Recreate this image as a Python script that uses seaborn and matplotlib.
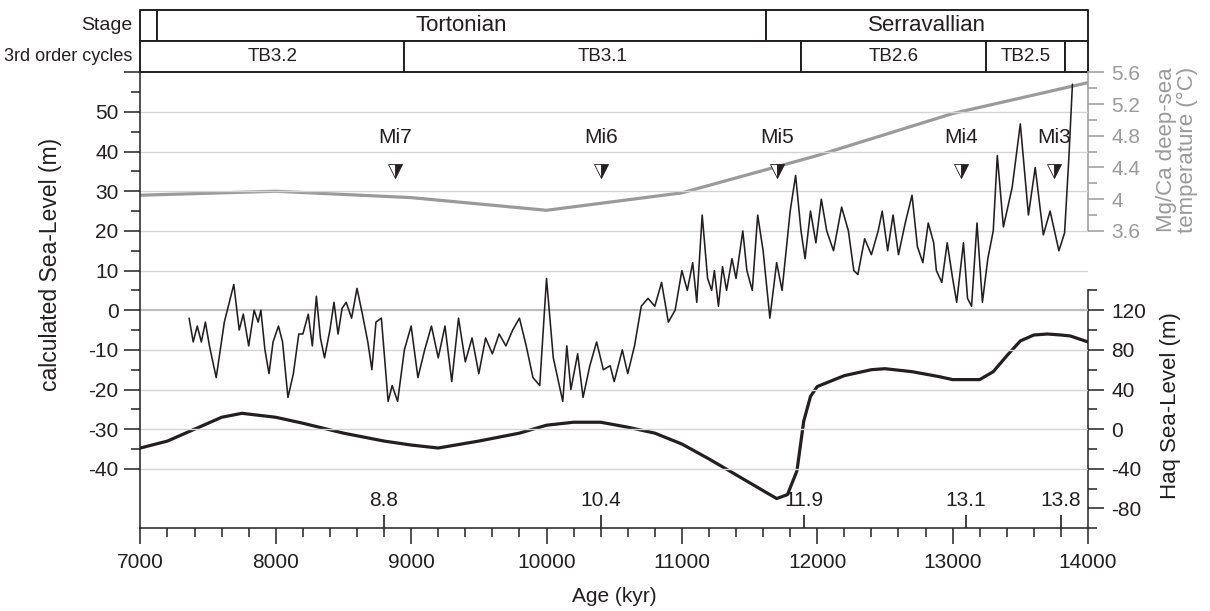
import numpy as np
import pandas as pd
import matplotlib
matplotlib.use("Agg")
import matplotlib.pyplot as plt
from matplotlib.ticker import MultipleLocator, FixedLocator, FuncFormatter
import seaborn as sns

sns.set_theme(style="ticks")
plt.rcParams["font.family"] = ["Liberation Sans", "DejaVu Sans"]
plt.rcParams["axes.unicode_minus"] = False
INK = "#231f20"
GREY = "#9a9a9a"

# ---- data -------------------------------------------------------------
# calculated sea-level (m) vs age (kyr)
calc_age = [7360, 7390, 7420, 7450, 7480, 7510, 7560, 7620, 7690, 7730, 7760, 7800,
            7840, 7870, 7890, 7920, 7950, 7980, 8020, 8050, 8090, 8130, 8170, 8200,
            8240, 8270, 8300, 8330, 8360, 8400, 8430, 8460, 8490, 8520, 8560, 8600,
            8640, 8680, 8710, 8740, 8780, 8830, 8860, 8900, 8950, 9000, 9050, 9100,
            9150, 9200, 9250, 9300, 9350, 9400, 9450, 9500, 9550, 9600, 9650, 9700,
            9750, 9800, 9850, 9900, 9950, 10000, 10050, 10120, 10150, 10180, 10230,
            10270, 10320, 10370, 10420, 10470, 10500, 10560, 10600, 10650, 10700,
            10750, 10800, 10850, 10900, 10950, 11000, 11040, 11080, 11110, 11150,
            11190, 11220, 11240, 11270, 11300, 11330, 11370, 11400, 11450, 11480,
            11520, 11560, 11600, 11650, 11700, 11740, 11800, 11840, 11880, 11910,
            11950, 11990, 12030, 12070, 12120, 12180, 12230, 12270, 12300, 12350,
            12400, 12450, 12480, 12520, 12560, 12600, 12650, 12700, 12740, 12780,
            12820, 12860, 12880, 12920, 12960, 13000, 13030, 13080, 13110, 13140,
            13180, 13220, 13260, 13300, 13330, 13375, 13440, 13500, 13560, 13610,
            13670, 13720, 13785, 13827, 13858, 13885]
calc_sl = [-2, -8, -4, -8, -3, -9, -17, -3, 6.5, -5, -1, -9,
           0, -3, 0, -10, -16, -8, -4, -8, -22, -16, -6, -6,
           -1, -9, 3.5, -7, -12, -5, 2, -6, 0.5, 2, -2, 5.5,
           -1, -8, -15, -3, -2, -23, -19, -23, -10, -4, -17, -10,
           -4, -12, -4, -18, -2, -13, -7, -16, -7, -11, -6, -9,
           -5, -2, -9, -17, -19, 8, -12, -23, -9, -20, -11,
           -22, -14, -8, -15, -14, -18, -10, -16, -9, 1,
           3, 1, 7, -3, 0, 10, 5, 12, 2, 24,
           8, 5, 10, 1, 11, 5, 13, 8, 20, 10,
           5, 24, 15, -2, 12, 5, 25, 34, 20, 13,
           25, 17, 28, 20, 15, 26, 20, 10, 9, 18,
           14, 20, 25, 15, 24, 14, 22, 29, 16, 12,
           22, 17, 10, 7, 17, 8, 2, 17, 3, 1,
           22, 2, 13, 20, 39, 21, 31, 47, 24, 36,
           19, 25, 15, 19.5, 38, 57]

# Haq et al. sea-level (m)
haq_age = [7000, 7200, 7400, 7600, 7750, 8000, 8200, 8500, 8800, 9000, 9200, 9500,
           9800, 10000, 10200, 10400, 10600, 10800, 11000, 11200, 11400, 11600,
           11700, 11780, 11850, 11900, 11950, 12000, 12200, 12400, 12500, 12700,
           12900, 13000, 13200, 13300, 13400, 13500, 13600, 13700, 13800, 13870, 14000]
haq_sl = [-19, -12, 0, 12, 16, 12, 6, -4, -12, -16, -19, -12,
          -4, 4, 7, 7, 2, -4, -15, -30, -46, -62,
          -70, -66, -42, 8, 33, 43, 54, 60, 61, 58,
          53, 50, 50, 58, 74, 89, 95, 96, 95, 94, 88]

# Mg/Ca deep-sea temperature (deg C)
mgca_age = [7000, 8000, 9000, 10000, 11000, 12000, 13000, 14000]
mgca_temp = [4.05, 4.10, 4.02, 3.86, 4.08, 4.55, 5.08, 5.47]

# oxygen-isotope events
mi_names = ["Mi7", "Mi6", "Mi5", "Mi4", "Mi3"]
mi_ages = [8880, 10400, 11700, 13060, 13750]

# boundary ages (Ma) marked on the time axis
event_ages = [8800, 10400, 11900, 13100, 13800]
event_labels = ["8.8", "10.4", "11.9", "13.1", "13.8"]

# chronostratigraphy
stage_names = ["", "Tortonian", "Serravallian"]
stage_edges = [7000, 7120, 11620, 14000]
cycle_names = ["TB3.2", "TB3.1", "TB2.6", "TB2.5", ""]
cycle_edges = [7000, 8950, 11880, 13250, 13830, 14000]

grid_levels = list(range(-40, 51, 10))

calc_df = pd.DataFrame({"age": calc_age, "sl": calc_sl})
haq_df = pd.DataFrame({"age": haq_age, "sl": haq_sl})
mgca_df = pd.DataFrame({"age": mgca_age, "temp": mgca_temp})

# ---- layout -----------------------------------------------------------
W, H = 1210, 611
fig = plt.figure(figsize=(W / 100, H / 100), dpi=100)
x0, x1 = 140.4 / W, 1088 / W
y0, y1 = (H - 528.3) / H, (H - 72.3) / H
ax = fig.add_axes([x0, y0, x1 - x0, y1 - y0])
hax = fig.add_axes([x0, y1, x1 - x0, (H - 9.5) / H - y1])

tax = ax.twinx()
qax = ax.twinx()
ax.set_zorder(3)
ax.patch.set_visible(False)
tax.set_zorder(1)
qax.set_zorder(2)

TICK_FS = 15
LABEL_FS = 16

# ---- main axis: calculated sea level ---------------------------------
ax.set_xlim(7000, 14000)
ax.set_ylim(-55, 60)
for lv in grid_levels:
    ax.axhline(lv, color="#bdbdbd" if lv == 0 else "#d4d4d4",
               lw=1.6 if lv == 0 else 1.0, zorder=0)
sns.lineplot(data=calc_df, x="age", y="sl", ax=ax, color=INK, lw=1.15,
             sort=False, estimator=None, zorder=4)

ax.set_xticks(range(7000, 14001, 1000))
ax.xaxis.set_minor_locator(MultipleLocator(200))
yt = list(range(-40, 61, 10))
ax.set_yticks(yt)
ax.set_yticklabels([str(v) if v <= 50 else "" for v in yt])
ax.yaxis.set_minor_locator(FixedLocator(list(range(-35, 56, 10))))
ax.tick_params(axis="both", which="major", direction="out", length=11.8,
               width=1.1, color=INK, labelcolor=INK, labelsize=TICK_FS)
ax.tick_params(axis="x", which="major", pad=6)
ax.tick_params(axis="y", which="major", pad=4)
ax.tick_params(axis="both", which="minor", direction="out", length=6.3,
               width=1.1, color=INK)
for s in ["top", "right"]:
    ax.spines[s].set_visible(False)
for s in ["left", "bottom"]:
    ax.spines[s].set_color(INK)
    ax.spines[s].set_linewidth(1.1)
ax.set_xlabel("Age (kyr)", fontsize=15, color=INK)
ax.xaxis.set_label_coords(0.5, -0.128)
ax.set_ylabel("calculated Sea-Level (m)", fontsize=16.5, color=INK)
ax.yaxis.set_label_coords(-0.083, 0.578)

# Mi events: label and half-filled triangle
for name, age in zip(mi_names, mi_ages):
    ax.text(age, 43.6, name, ha="center", va="center", fontsize=15, color=INK)
ax.plot(mi_ages, [35] * len(mi_ages), ls="none", marker="v", markersize=9.5,
        fillstyle="right", markerfacecolor=INK, markerfacecoloralt="white",
        markeredgecolor=INK, markeredgewidth=0.6, zorder=5)

# boundary ages on an inner secondary axis
sec = ax.secondary_xaxis("bottom")
sec.set_xticks(event_ages)
sec.set_xticklabels(event_labels)
sec.tick_params(direction="in", length=9.5, width=1.2, pad=-27,
                labelsize=TICK_FS, color=INK, labelcolor=INK)
sec.spines["bottom"].set_visible(False)

# ---- Mg/Ca temperature axis ------------------------------------------
tax.set_ylim(-0.15, 5.6)
sns.lineplot(data=mgca_df, x="age", y="temp", ax=tax, color=GREY, lw=2.3,
             sort=False, estimator=None)
for s in ["top", "left", "bottom"]:
    tax.spines[s].set_visible(False)
tax.spines["right"].set_bounds(3.6, 5.6)
tax.spines["right"].set_color(GREY)
tax.spines["right"].set_linewidth(1.1)
tax.set_yticks(np.round(np.arange(3.6, 5.61, 0.4), 1))
tax.yaxis.set_major_formatter(FuncFormatter(lambda v, p: f"{v:g}"))
tax.yaxis.set_minor_locator(FixedLocator(np.round(np.arange(3.8, 5.5, 0.4), 1)))
tax.tick_params(axis="y", which="major", direction="out", length=11.8, width=1.1,
                color=GREY, labelcolor=GREY, labelsize=TICK_FS, pad=5)
tax.tick_params(axis="y", which="minor", direction="out", length=6.3, width=1.1,
                color=GREY)
tax.set_ylabel("Mg/Ca deep-sea\ntemperature (°C)", fontsize=LABEL_FS, color=GREY,
               linespacing=1.0)
tax.yaxis.set_label_coords(1.072, 0.83)
tax.set_xlabel("")

# ---- Haq sea-level axis ----------------------------------------------
qax.set_ylim(-100, 360)
sns.lineplot(data=haq_df, x="age", y="sl", ax=qax, color=INK, lw=2.3,
             sort=False, estimator=None)
for s in ["top", "left", "bottom"]:
    qax.spines[s].set_visible(False)
qax.spines["right"].set_bounds(-100, 140)
qax.spines["right"].set_color(INK)
qax.spines["right"].set_linewidth(1.1)
qax.set_yticks(list(range(-80, 121, 40)))
qax.yaxis.set_minor_locator(FixedLocator(list(range(-100, 141, 40))))
qax.tick_params(axis="y", which="major", direction="out", length=11.8, width=1.1,
                color=INK, labelcolor=INK, labelsize=TICK_FS, pad=5)
qax.tick_params(axis="y", which="minor", direction="out", length=6.3, width=1.1,
                color=INK)
qax.set_ylabel("Haq Sea-Level (m)", fontsize=LABEL_FS, color=INK)
qax.yaxis.set_label_coords(1.076, 0.27)
qax.set_xlabel("")
ax.set_xlim(7000, 14000)

# ---- stratigraphic header --------------------------------------------
hax.set_xlim(7000, 14000)
hax.set_ylim(0, 2)
hax.axis("off")
rows = [(1, stage_names, stage_edges, 16), (0, cycle_names, cycle_edges, 13.5)]
for ybase, names, edges, fs in rows:
    spans = [(a, b - a) for a, b in zip(edges[:-1], edges[1:])]
    hax.broken_barh(spans, (ybase, 1), facecolors="white", edgecolors=INK,
                    linewidth=1.4, clip_on=False)
    for name, a, b in zip(names, edges[:-1], edges[1:]):
        hax.text((a + b) / 2, ybase + 0.5, name, ha="center", va="center",
                 fontsize=fs, color=INK)
hax.text(-0.008, 0.75, "Stage", transform=hax.transAxes, ha="right",
         va="center", fontsize=14, color=INK)
hax.text(-0.008, 0.25, "3rd order cycles", transform=hax.transAxes, ha="right",
         va="center", fontsize=13, color=INK)

fig.savefig("out.png", dpi=100, facecolor="white")
